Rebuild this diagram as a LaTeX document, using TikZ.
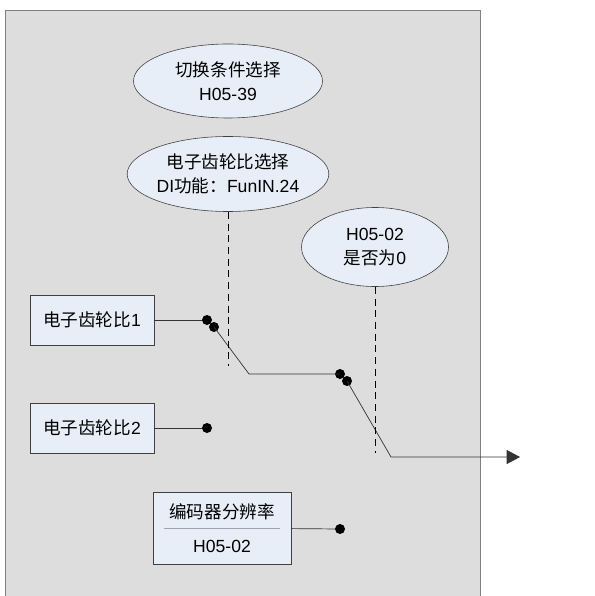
\documentclass[tikz,border=0pt]{standalone}
\usepackage{fontspec}
\setmainfont{Liberation Sans}
\newfontfamily\cjk{Noto Sans CJK SC}
\usepackage{tikz}
\usetikzlibrary{arrows.meta,positioning,calc,shapes.geometric}
\definecolor{panelgray} {HTML}{DDDDDD}
\definecolor{panelrule} {HTML}{808080}
\definecolor{nodefill}  {HTML}{E8EEF7}
\definecolor{noderule}  {HTML}{404040}
\definecolor{seprule}   {HTML}{A0A4AA}

\tikzset{
  selell/.style={ellipse, draw=noderule, fill=nodefill, line width=0.5pt,
                 align=center, inner sep=0pt,
                 font=\fontsize{15pt}{20.5pt}\selectfont},
  ratiobox/.style={rectangle, draw=noderule, fill=nodefill, line width=0.6pt,
                   minimum width=3.72cm, minimum height=1.5cm, inner sep=0pt,
                   font=\fontsize{15pt}{18pt}\selectfont},
  swdot/.style={circle, fill=black, minimum size=0.3cm, inner sep=0pt},
  wire/.style={draw=black!80, line width=0.6pt},
  ctrl/.style={draw=black, line width=0.6pt, dash pattern=on 6pt off 4pt}
}

\begin{document}
\begin{tikzpicture}[x=0.03cm, y=-0.03cm]
  \useasboundingbox (0,0) rectangle (594,596);
  % panel
  \fill[panelgray] (5,10) rectangle (480,596);
  \draw[panelrule, line width=0.6pt] (5,596) -- (5,10) -- (480,10) -- (480,596);

  % control inputs
  \node[selell, minimum width=5.67cm, minimum height=2.22cm] (cond) at (228,81)
    {{\cjk 切换条件选择}\\H05-39};
  \node[selell, minimum width=5.67cm, minimum height=2.25cm] (sel) at (228,174)
    {{\cjk 电子齿轮比选择}\\DI{\cjk 功能：}FunIN.24};
  \node[selell, minimum width=4.41cm, minimum height=2.37cm] (zero) at (375,247)
    {H05-02\\{\cjk 是否为}0};

  % sources
  \node[ratiobox] (g1) at (92,320) {{\cjk 电子齿轮比}1};
  \node[ratiobox] (g2) at (92,428) {{\cjk 电子齿轮比}2};
  \node[ratiobox, minimum width=4.14cm, minimum height=2.16cm, align=center,
        font=\fontsize{15pt}{29pt}\selectfont] (enc) at (222,528)
    {{\cjk 编码器分辨率}\\H05-02};
  \draw[seprule, line width=0.5pt] ([xshift=0.33cm]enc.west) -- ([xshift=-0.33cm]enc.east);

  % switch contacts
  \node[swdot] (d1) at (207,320) {};
  \node[swdot] (p1) at (214,327) {};
  \node[swdot] (d2) at (207,428) {};
  \node[swdot] (s1) at (340,374) {};
  \node[swdot] (p2) at (347,381) {};
  \node[swdot] (d3) at (340,529) {};
  \coordinate (k1) at (249,374);
  \coordinate (k2) at (391,457);
  \coordinate (out) at (520,457);
  \coordinate (c1) at (228,366);
  \coordinate (c2) at (375,453);

  \draw[wire] (g1) -- (d1);
  \draw[wire] (g2) -- (d2);
  \draw[wire] (enc) -- (d3);
  \draw[wire] (p1.center) -- (k1) -- (s1.center);
  \draw[wire, -{Triangle[length=0.4cm, width=0.42cm]}] (p2.center) -- (k2) -- (out);

  \draw[ctrl] (sel) -- (c1);
  \draw[ctrl] (zero) -- (c2);
\end{tikzpicture}
\end{document}
